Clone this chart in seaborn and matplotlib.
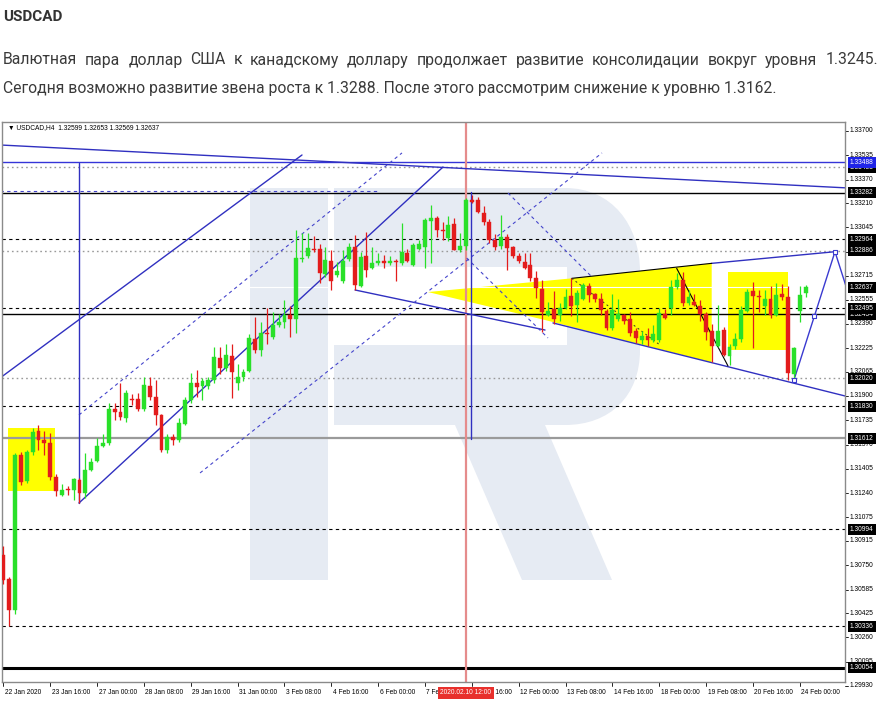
import matplotlib
matplotlib.use("Agg")
import matplotlib.pyplot as plt
import matplotlib.patches as mpatches
import matplotlib.transforms as mtransforms
from matplotlib.path import Path
import numpy as np
import pandas as pd
import seaborn as sns

# ---------------- data (USDCAD H4 candles) ----------------
opens = [1.3082, 1.30655, 1.30446, 1.3150, 1.3132, 1.3152, 1.3166, 1.3160, 1.3158, 1.3135,
         1.3123, 1.3127, 1.3126, 1.3133, 1.3124, 1.3140, 1.3146, 1.3156, 1.3158, 1.3181,
         1.3179, 1.3175, 1.3188, 1.3188, 1.3181, 1.3197, 1.3189, 1.3177, 1.3153, 1.3162,
         1.3160, 1.3171, 1.3187, 1.3199, 1.3197, 1.3197, 1.3201, 1.3216, 1.3209, 1.3217,
         1.3199, 1.3203, 1.3207, 1.3229, 1.3221, 1.3233, 1.3230, 1.3238, 1.3240, 1.3245,
         1.3242, 1.3283, 1.3285, 1.3290, 1.3290, 1.3273, 1.3282, 1.3272, 1.3268, 1.3283,
         1.3291, 1.3265, 1.3285, 1.3277, 1.3280, 1.3282, 1.3280, 1.3282, 1.3280, 1.3287,
         1.3279, 1.3290, 1.3291, 1.3309, 1.3311, 1.3303, 1.3297, 1.3307, 1.3289, 1.3292,
         1.3323, 1.3323, 1.3314, 1.3308, 1.3296, 1.3292, 1.3298, 1.3291, 1.3285, 1.3281,
         1.3279, 1.3270, 1.3263, 1.3245, 1.3249, 1.3245, 1.3250, 1.3258, 1.3252, 1.3256,
         1.3265, 1.3259, 1.3256, 1.3248, 1.3236, 1.3242, 1.3245, 1.3242, 1.3234, 1.3228,
         1.3231, 1.3228, 1.3228, 1.3246, 1.3250, 1.3264, 1.3269, 1.3253, 1.3254, 1.3251,
         1.3246, 1.3234, 1.3224, 1.3235, 1.3217, 1.3224, 1.3229, 1.3248, 1.3261, 1.3258,
         1.3251, 1.3256, 1.3245, 1.3259, 1.3257, 1.3205, 1.3248, 1.32599]
highs = [1.3088, 1.3067, 1.3151, 1.3152, 1.3153, 1.3168, 1.3170, 1.3166, 1.3165, 1.3137,
         1.3130, 1.3129, 1.3134, 1.3134, 1.31512, 1.3148, 1.31614, 1.3164, 1.31852, 1.3185,
         1.31988, 1.3194, 1.3191, 1.3192, 1.32031, 1.3203, 1.3201, 1.3178, 1.3164, 1.3164,
         1.3175, 1.31895, 1.32054, 1.32076, 1.3202, 1.3203, 1.32235, 1.3223, 1.3225, 1.3225,
         1.3212, 1.3208, 1.3232, 1.32439, 1.3240, 1.32498, 1.3247, 1.3246, 1.32552, 1.3251,
         1.33028, 1.3301, 1.3301, 1.3299, 1.3293, 1.3291, 1.3289, 1.3281, 1.3289, 1.3294,
         1.32994, 1.3288, 1.33016, 1.3291, 1.3287, 1.3286, 1.3285, 1.3283, 1.33073, 1.3290,
         1.3294, 1.3296, 1.3311, 1.33197, 1.3312, 1.3308, 1.3312, 1.3311, 1.3301, 1.33245,
         1.33262, 1.3325, 1.3319, 1.3310, 1.3300, 1.3313, 1.3300, 1.3292, 1.3287, 1.3287,
         1.3287, 1.3275, 1.3269, 1.32540, 1.3261, 1.3253, 1.3263, 1.3270, 1.3262, 1.3267,
         1.3267, 1.3260, 1.3260, 1.3249, 1.3259, 1.3256, 1.3246, 1.3247, 1.3236, 1.3234,
         1.3236, 1.3238, 1.3250, 1.3249, 1.32688, 1.32733, 1.3274, 1.3262, 1.3259, 1.3255,
         1.3247, 1.3239, 1.32518, 1.3237, 1.3225, 1.3233, 1.3251, 1.3263, 1.32676, 1.3262,
         1.3262, 1.3265, 1.3267, 1.3266, 1.3265, 1.3223, 1.3265, 1.32653]
lows = [1.3062, 1.30337, 1.3042, 1.31295, 1.3131, 1.3150, 1.31533, 1.3150, 1.3133, 1.3122,
        1.3122, 1.3123, 1.3119, 1.31173, 1.3121, 1.3139, 1.3145, 1.3155, 1.3157, 1.3174,
        1.3174, 1.3172, 1.3184, 1.3180, 1.3180, 1.3187, 1.31703, 1.3152, 1.3151, 1.3157,
        1.3159, 1.3170, 1.3185, 1.3189, 1.3187, 1.3195, 1.3199, 1.3205, 1.3207, 1.31884,
        1.3194, 1.3200, 1.3206, 1.3219, 1.3217, 1.3225, 1.3229, 1.3237, 1.3236, 1.3230,
        1.3233, 1.3281, 1.3284, 1.3288, 1.32665, 1.3271, 1.3262, 1.3271, 1.3267, 1.3282,
        1.3262, 1.3264, 1.3271, 1.3276, 1.3279, 1.3277, 1.3279, 1.3268, 1.3279, 1.3281,
        1.3278, 1.3289, 1.3277, 1.3280, 1.3298, 1.3296, 1.3295, 1.3289, 1.3288, 1.3289,
        1.3321, 1.3314, 1.3306, 1.3294, 1.3289, 1.3290, 1.32756, 1.3284, 1.3280, 1.3276,
        1.3268, 1.32566, 1.32337, 1.3244, 1.3239, 1.3241, 1.3249, 1.3244, 1.3240, 1.3255,
        1.3254, 1.3254, 1.3245, 1.3235, 1.3235, 1.3241, 1.3239, 1.3231, 1.3226, 1.3225,
        1.3224, 1.3227, 1.3227, 1.3242, 1.3245, 1.3263, 1.3251, 1.3252, 1.3251, 1.3241,
        1.3228, 1.32133, 1.3223, 1.3217, 1.3211, 1.3222, 1.3227, 1.3247, 1.32224, 1.3247,
        1.3245, 1.3243, 1.3244, 1.3255, 1.32009, 1.3201, 1.32405, 1.32569]
closes = [1.3065, 1.30446, 1.31499, 1.31318, 1.31521, 1.31657, 1.31601, 1.3158, 1.31352, 1.31257,
          1.3126, 1.3126, 1.31334, 1.31239, 1.31397, 1.31454, 1.31560, 1.3158, 1.31809, 1.3179,
          1.31759, 1.31922, 1.3187, 1.3181, 1.31975, 1.31895, 1.31771, 1.31533, 1.31623, 1.3160,
          1.31714, 1.31873, 1.31986, 1.3196, 1.3200, 1.3201, 1.32167, 1.32088, 1.32178, 1.32065,
          1.3203, 1.32065, 1.32292, 1.32212, 1.32326, 1.3232, 1.32382, 1.3240, 1.32450, 1.3242,
          1.32835, 1.3284, 1.32903, 1.3289, 1.32733, 1.32824, 1.3268, 1.3275, 1.3282, 1.32914,
          1.32654, 1.32846, 1.32756, 1.3280, 1.3282, 1.3280, 1.3282, 1.3281, 1.32880, 1.3282,
          1.32926, 1.3293, 1.33095, 1.3311, 1.33027, 1.3302, 1.33061, 1.32892, 1.3292, 1.33231,
          1.3322, 1.33152, 1.33080, 1.32960, 1.3291, 1.3298, 1.32907, 1.32853, 1.32817, 1.32771,
          1.32699, 1.32631, 1.32472, 1.3248, 1.32423, 1.3250, 1.32574, 1.32513, 1.32597, 1.32654,
          1.32586, 1.3256, 1.32484, 1.32360, 1.32484, 1.3246, 1.3241, 1.32326, 1.32292, 1.3231,
          1.3228, 1.3232, 1.32462, 1.3243, 1.32642, 1.3269, 1.32530, 1.3257, 1.3252, 1.32457,
          1.32337, 1.32240, 1.32343, 1.32178, 1.32231, 1.32287, 1.32484, 1.32608, 1.32579, 1.3257,
          1.3256, 1.32450, 1.32586, 1.3257, 1.32054, 1.32224, 1.32586, 1.32637]

x_tick_idx = [0, 8, 16, 24, 32, 40, 48, 56, 64, 72, 80, 88, 96, 104, 112, 120, 128, 136]
x_tick_labels = ["22 Jan 2020", "23 Jan 16:00", "27 Jan 00:00", "28 Jan 08:00", "29 Jan 16:00",
                 "31 Jan 00:00", "3 Feb 08:00", "4 Feb 16:00", "6 Feb 00:00", "7 Feb 08:00",
                 "10 Feb 16:00", "12 Feb 00:00", "13 Feb 08:00", "14 Feb 16:00", "18 Feb 00:00",
                 "19 Feb 08:00", "20 Feb 16:00", "24 Feb 00:00"]
cursor_idx = 79
cursor_label = "2020.02.10 12:00"

price_ticks = [1.33700, 1.33535, 1.33370, 1.33210, 1.33045, 1.32880, 1.32715, 1.32555, 1.32390,
               1.32225, 1.32065, 1.31900, 1.31735, 1.31570, 1.31405, 1.31240, 1.31075, 1.30915,
               1.30750, 1.30585, 1.30425, 1.30260, 1.30095, 1.29930]

level_prices = [1.33453, 1.33488, 1.33282, 1.32964, 1.32886, 1.32637, 1.32454, 1.32495,
                1.32020, 1.31830, 1.31612, 1.30994, 1.30336, 1.30054]
level_colors = ["#9a9a9a", "#3535d8", "black", "black", "#9a9a9a", "white", "black", "black",
                "#9a9a9a", "black", "#9a9a9a", "black", "black", "black"]
level_styles = [":", "-", "-", "--", ":", "-", "-", "--", ":", "--", "-", "--", "--", "-"]
level_widths = [1.0, 1.0, 1.0, 0.8, 1.0, 0.8, 1.0, 0.8, 1.0, 0.8, 1.6, 0.8, 0.8, 2.2]
level_label_bg = ["black", "#1f24e8", "black", "black", "black", "black", "black", "black",
                  "black", "black", "black", "black", "black", "black"]

# trend lines: (start index, start price, end index, end price)
solid_i0 = [-0.56, -0.56, 12.92, 60.05, 93.85, 120.95]
solid_p0 = [1.33605, 1.32022, 1.31173, 1.32620, 1.32396, 1.32801]
solid_i1 = [143.71, 51.0, 75.07, 92.49, 143.71, 142.0]
solid_p1 = [1.33314, 1.33537, 1.33455, 1.32348, 1.31900, 1.32880]
dashed_i0 = [12.92, 33.59, 86.17, 79.12, -0.56]
dashed_p0 = [1.31771, 1.31377, 1.33279, 1.32837, 1.33294]
dashed_i1 = [68.07, 102.22, 100.51, 93.0, 64.3]
dashed_p1 = [1.33551, 1.33551, 1.32708, 1.32294, 1.33294]
black_i0 = [97.05, 114.97]
black_p0 = [1.32699, 1.32767]
black_i1 = [120.95, 123.73]
black_p1 = [1.32801, 1.32104]
black_dash_i = [97.05, 112.12]
black_dash_p = [1.32699, 1.32246]
vert_idx = [12.92, 79.85]
vert_top = [1.33485, 1.33286]
vert_bottom = [1.31173, 1.31608]
forecast_idx = [135.0, 142.0, 146.3]
forecast_price = [1.32009, 1.32880, 1.32344]
forecast_mark_idx = [135.0, 138.42, 142.0]
forecast_mark_price = [1.32009, 1.32443, 1.32880]

# yellow zones
rect_i0 = [0.80, 123.78]
rect_i1 = [8.83, 133.93]
rect_p0 = [1.31255, 1.32212]
rect_p1 = [1.31682, 1.32744]
tri_idx = [72.51, 97.05, 120.95, 120.95, 92.49]
tri_price = [1.32606, 1.32699, 1.32801, 1.32127, 1.32416]

title = "USDCAD"
line1 = "Валютная пара доллар США к канадскому доллару продолжает развитие консолидации вокруг уровня 1.3245."
line2 = "Сегодня возможно развитие звена роста к 1.3288. После этого рассмотрим снижение к уровню 1.3162."
chart_info = "▼ USDCAD,H4  1.32599 1.32653 1.32569 1.32637"

# ---------------- figure ----------------
sns.set_theme(style="white")
plt.rcParams["font.family"] = ["Liberation Sans", "DejaVu Sans"]

W, H = 887, 702
fig = plt.figure(figsize=(W / 100, H / 100), dpi=100)
fig.patch.set_facecolor("white")
ax = fig.add_axes([2 / W, 20 / H, 843 / W, 560 / H])
ax.set_facecolor("white")
ax.set_xlim(-0.222, 143.71)
ax.set_ylim(1.29957, 1.337611)
ax.set_xticks([])
ax.set_yticks([])
for s in ax.spines.values():
    s.set_color("#8a8a8a")
    s.set_linewidth(1.0)

pix = mtransforms.Affine2D().scale(1 / W, -1 / H).translate(0, 1) + fig.transFigure

# watermark logo (decoration)
logo_c = "#e6ebf3"
stem = mpatches.Rectangle((250, 188), 78, 392, transform=pix, fc=logo_c, ec="none", zorder=0.2)
verts = [(334, 188), (565, 188), (612, 188), (640, 225), (640, 272), (640, 350),
         (640, 396), (610, 425), (565, 425), (334, 425), (334, 188)]
codes = [Path.MOVETO, Path.LINETO, Path.CURVE4, Path.CURVE4, Path.CURVE4, Path.LINETO,
         Path.CURVE4, Path.CURVE4, Path.CURVE4, Path.LINETO, Path.CLOSEPOLY]
bowl = mpatches.PathPatch(Path(verts, codes), transform=pix, fc=logo_c, ec="none", zorder=0.2)
leg = mpatches.Polygon([(455, 425), (545, 425), (612, 580), (522, 580)], closed=True,
                       transform=pix, fc=logo_c, ec="none", zorder=0.2)
hole = mpatches.Rectangle((334, 267), 233, 78, transform=pix, fc="white", ec="none", zorder=0.3)
for p in (stem, bowl, leg, hole):
    p.set_clip_path(ax.patch)
    ax.add_patch(p)

# yellow zones
for a, b, c, d in zip(rect_i0, rect_i1, rect_p0, rect_p1):
    ax.fill([a, b, b, a], [c, c, d, d], color="#ffff00", lw=0, zorder=1)
ax.fill(tri_idx, tri_price, color="#ffff00", lw=0, zorder=1)

# horizontal levels
for p, c, ls, lw in zip(level_prices, level_colors, level_styles, level_widths):
    if ls == "--":
        ax.axhline(p, color=c, lw=lw, dashes=(3, 3), zorder=2)
    elif ls == ":":
        ax.axhline(p, color=c, lw=lw, dashes=(1.2, 2.2), zorder=2)
    else:
        ax.axhline(p, color=c, lw=lw, zorder=2)

# cursor line
ax.axvline(cursor_idx, color="#e58c8c", lw=1.6, zorder=2.1)

def seg(i0, p0, i1, p1, **kw):
    d = pd.DataFrame({"i": [i0, i1], "p": [p0, p1]})
    sns.lineplot(data=d, x="i", y="p", ax=ax, estimator=None, sort=False, legend=False, **kw)

for a, b, c, d in zip(solid_i0, solid_p0, solid_i1, solid_p1):
    seg(a, b, c, d, color="#3030c0", lw=1.0, zorder=2.5)
for a, b, c, d in zip(dashed_i0, dashed_p0, dashed_i1, dashed_p1):
    seg(a, b, c, d, color="#4545cc", lw=0.8, dashes=(3, 3), zorder=2.5)
for a, b, c, d in zip(black_i0, black_p0, black_i1, black_p1):
    seg(a, b, c, d, color="black", lw=0.8, zorder=2.5)
seg(black_dash_i[0], black_dash_p[0], black_dash_i[1], black_dash_p[1],
    color="#333333", lw=0.7, dashes=(2, 3), zorder=2.5)
for i, t, b in zip(vert_idx, vert_top, vert_bottom):
    seg(i, t, i, b, color="#3030c0", lw=1.0, zorder=2.5)

fd = pd.DataFrame({"i": forecast_idx, "p": forecast_price})
sns.lineplot(data=fd, x="i", y="p", ax=ax, estimator=None, sort=False, color="#3a3ad0",
             lw=1.0, zorder=2.6, legend=False)
ax.scatter(forecast_mark_idx, forecast_mark_price, marker="s", s=9, facecolor="white",
           edgecolor="#3a3ad0", lw=0.8, zorder=5)

# candles
df = pd.DataFrame({"i": np.arange(len(opens)), "o": opens, "h": highs, "l": lows, "c": closes})
up = df["c"] >= df["o"]
cols = np.where(up, "#29e029", "#e31c1c")
ax.vlines(df["i"], df["l"], df["h"], colors=cols, lw=0.9, zorder=3)
bottoms = np.minimum(df["o"], df["c"])
heights = np.maximum((df["c"] - df["o"]).abs(), 0.00006)
ax.bar(df["i"], heights, bottom=bottoms, width=0.66, color=cols, edgecolor=cols, lw=0.3, zorder=4)

# chart info text
ax.text(6 / 843, 1 - 5.5 / 560, chart_info, transform=ax.transAxes, fontsize=4.8,
        va="center", ha="left", color="black", zorder=6,
        family=["Liberation Sans", "DejaVu Sans"])

# right price scale
ytr = ax.get_yaxis_transform()
for p in price_ticks:
    ax.plot([1.0, 1.0 + 3 / 843], [p, p], transform=ytr, color="black", lw=0.6, clip_on=False)
    ax.text(1.0 + 5 / 843, p, f"{p:.5f}", transform=ytr, fontsize=4.8, va="center", ha="left",
            color="black", clip_on=False, zorder=5)
for p, bg in zip(level_prices, level_label_bg):
    ax.text(1.0 + 5 / 843, p, f"{p:.5f}", transform=ytr, fontsize=4.8, va="center", ha="left",
            color="white", clip_on=False, zorder=7,
            bbox=dict(boxstyle="square,pad=0.3", fc=bg, ec="none"))

# time scale
xtr = ax.get_xaxis_transform()
for i, lab in zip(x_tick_idx, x_tick_labels):
    ax.plot([i, i], [0, -4 / 560], transform=xtr, color="black", lw=0.6, clip_on=False)
    ax.text(i + 1.5 / 5.857, -11 / 560, lab, transform=xtr, fontsize=4.8, va="center", ha="left",
            color="black", clip_on=False, zorder=5)
ax.text(cursor_idx, -11 / 560, cursor_label, transform=xtr, fontsize=4.8, va="center",
        ha="center", color="white", clip_on=False, zorder=8,
        bbox=dict(boxstyle="square,pad=0.35", fc="#e8302c", ec="none"))

# header texts
fig.text(3 / W, 1 - 17 / H, title, fontsize=11, weight="bold", color="#333333",
         va="center", ha="left", family=["Roboto", "DejaVu Sans"])

fig.canvas.draw()
renderer = fig.canvas.get_renderer()
para_font = ["Roboto", "DejaVu Sans"]
t2 = fig.text(3 / W, 1 - 88 / H, line2, fontsize=12, color="#3a3a3a", va="center", ha="left",
              family=para_font)
w2 = t2.get_window_extent(renderer).width
fs = 12 * 769 / w2
t2.set_fontsize(fs)

words = line1.split(" ")
wtexts = [fig.text(0, 1 - 60 / H, w, fontsize=fs, color="#3a3a3a", va="center", ha="left",
                   family=para_font) for w in words]
widths = [t.get_window_extent(renderer).width for t in wtexts]
gap = (875 - sum(widths)) / (len(words) - 1)
xpos = 3.0
for t, w in zip(wtexts, widths):
    t.set_x(xpos / W)
    xpos += w + gap

fig.savefig("out.png", dpi=100, facecolor="white")
